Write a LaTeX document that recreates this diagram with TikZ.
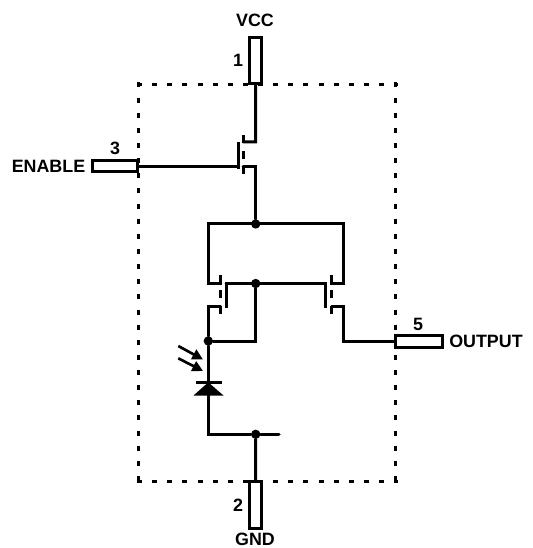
\documentclass[tikz,border=0pt]{standalone}
\usepackage{fontspec}
\setmainfont{Liberation Sans}
\usetikzlibrary{arrows.meta}
\tikzset{
  wire/.style = {line width=2.25pt, line cap=round},
  stub/.style = {line width=2.25pt},
  border/.style = {line width=2.25pt, dash pattern=on 3.75pt off 7.6pt},
  pin/.style = {draw, line width=2.25pt, fill=white, inner sep=0pt},
  dot/.style = {circle, fill, inner sep=0pt, minimum size=7pt},
  lbl/.style = {inner sep=0pt, font=\fontsize{13.4}{13.4}\selectfont\bfseries},
  ray/.style = {line width=2pt, -{Triangle[length=8pt,width=8pt]}},
}
\begin{document}
\begin{tikzpicture}[x=0.75pt,y=-0.75pt]

	\useasboundingbox (0,0) rectangle (532,548);

	% package outline
	\coordinate (tl) at (137,84.7);
	\coordinate (tr) at (398,84.7);
	\coordinate (bl) at (137,481.5);
	\coordinate (br) at (398,481.5);
	\draw[border] (tl) -- (tr);
	\draw[border] (bl) -- (br);
	\draw[border] (138.5,82.5) -- (138.5,483);
	\draw[border] (395.5,82.5) -- (395.5,483);

	% pins
	\node[pin, minimum width=8.5pt, minimum height=34.5pt] (vccpin) at (255.5,60.5) {};
	\node[pin, minimum width=8.5pt, minimum height=35pt] (gndpin) at (255.5,505) {};
	\node[pin, minimum width=34pt, minimum height=7.6pt] (enpin) at (114.8,166) {};
	\node[pin, minimum width=35pt, minimum height=8.6pt] (outpin) at (418.8,341.3) {};

	% pin labels
	\node[lbl] (vcclabel) at (255,20) {VCC};
	\node[lbl] (vccnum) at (238,60) {1};
	\node[lbl] (gndlabel) at (255,539) {GND};
	\node[lbl] (gndnum) at (238,505) {2};
	\node[lbl, anchor=east] (enlabel) at (85.5,166) {ENABLE};
	\node[lbl] (ennum) at (115,148) {3};
	\node[lbl, anchor=west] (outlabel) at (449,341) {OUTPUT};
	\node[lbl] (outnum) at (418,324) {5};

	% junctions
	\node[dot] (jtop) at (255.7,224) {};
	\node[dot] (jgate) at (255.7,283.5) {};
	\node[dot] (jdiode) at (208.3,341) {};
	\node[dot] (jgnd) at (255.7,434.3) {};

	% enable transistor
	\coordinate (tgate) at (238.7,166.7);
	\draw[wire] (enpin.east |- tgate) -- (tgate);
	\draw[stub] (238.7,142) -- (238.7,169);
	\draw[stub] (243,135) -- (243,143);
	\draw[stub] (243,151) -- (243,159);
	\draw[stub] (243,174) -- (243,166);
	\draw[wire] (vccpin.south) -- (255.7,142) -- (243,142);
	\draw[wire] (243,166.7) -- (255.7,166.7) -- (jtop);

	% mirror rails
	\draw[wire] (220.7,283.5) -- (208.3,283.5) -- (208.3,224) -- (343.3,224) -- (343.3,283.5) -- (331.7,283.5);

	% left mirror transistor
	\draw[stub] (220.7,275) -- (220.7,284.5);
	\draw[stub] (220.7,290) -- (220.7,298);
	\draw[stub] (220.7,313.5) -- (220.7,306);
	\draw[stub] (226,282) -- (226,308);
	\draw[wire] (220.7,306.7) -- (208.3,306.7) -- (jdiode);

	% right mirror transistor
	\draw[stub] (331.7,275) -- (331.7,284.5);
	\draw[stub] (331.7,290) -- (331.7,298);
	\draw[stub] (331.7,313.5) -- (331.7,306);
	\draw[stub] (325,282) -- (325,308);
	\draw[wire] (331.7,306.7) -- (343.3,306.7) -- (343.3,341.3) -- (outpin.west);

	% gates and feedback
	\draw[wire] (226,283.5) -- (325,283.5);
	\draw[wire] (jgate) -- (255.7,341) -- (jdiode);

	% photodiode
	\coordinate (dbar) at (208.3,382.3);
	\draw[wire] (jdiode) -- (dbar);
	\draw[stub] (196,382.3) -- (222,382.3);
	\fill (dbar) -- (223.5,395.5) -- (193.5,395.5) -- cycle;
	\draw[wire] (208.3,395) -- (208.3,434.3) -- (jgnd);
	\draw[wire] (jgnd) -- (279,434.3);
	\draw[wire] (jgnd) -- (gndpin.north);
	\draw[ray] (178.3,346) -- (203,359.5);
	\draw[ray] (178.3,358.3) -- (203,371);

\end{tikzpicture}
\end{document}
